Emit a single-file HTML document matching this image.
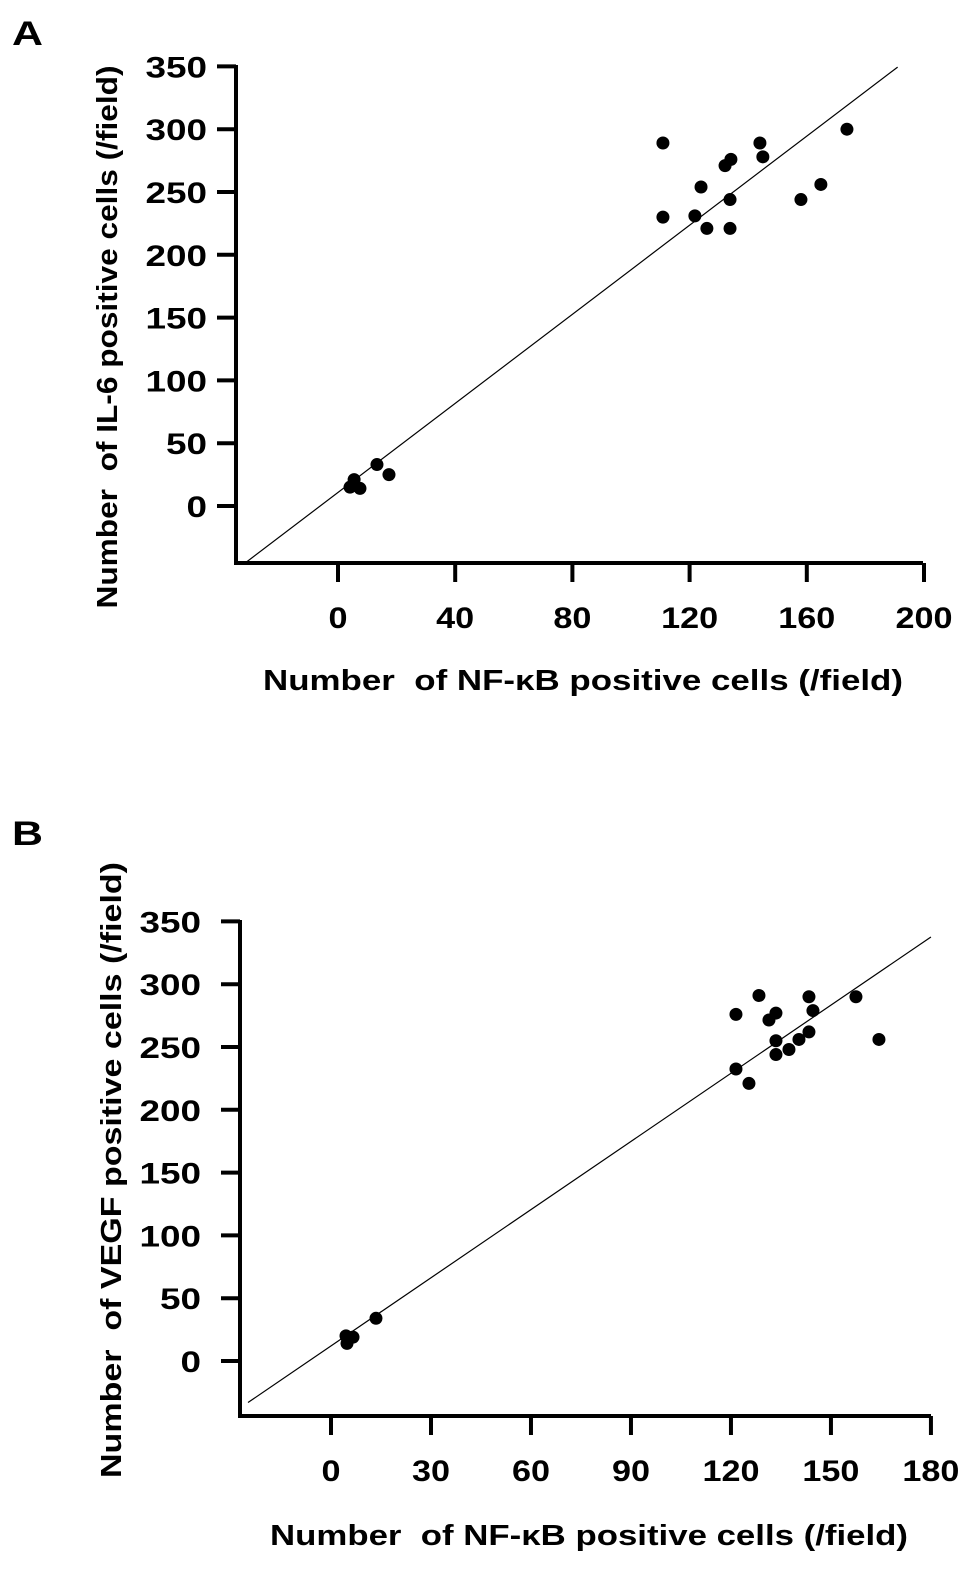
<!DOCTYPE html>
<html><head><meta charset="utf-8"><style>
body{margin:0;background:#fff;}
svg text{font-family:"Liberation Sans",Arial,sans-serif;font-weight:bold;fill:#000;}
</style></head><body>
<svg id="chart" width="969" height="1564" xmlns="http://www.w3.org/2000/svg"></svg>
<script>
// Panel A data
const aX = [110.9,110.9,123.9,121.8,125.9,132.1,134.1,144,145,133.8,133.8,158,164.8,173.7,4.1,5.5,7.5,13.3,17.4];
const aY = [289,230,254,231,221,271,276,289,278,244,221,244,256,300,15,21,14,33,25];
const aXTicks = [0,40,80,120,160,200];
const aYTicks = [0,50,100,150,200,250,300,350];
const aFit = [10.8,1.773];
// Panel B data
const bX = [121.5,128.4,133.5,131.4,143.4,144.6,157.5,164.4,143.4,140.4,137.4,133.5,133.5,121.5,125.4,4.8,4.5,6.6,13.5];
const bY = [276,291,277,271.5,290,279,290,256,262,256,248,255,244,232.5,221,14,20,19,34];
const bXTicks = [0,30,60,90,120,150,180];
const bYTicks = [0,50,100,150,200,250,300,350];
const bFit = [12,1.809];

const svg = document.getElementById('chart');
const NS = 'http://www.w3.org/2000/svg';
function mk(tag, attrs, parent){
  const e = document.createElementNS(NS, tag);
  for (const k in attrs) e.setAttribute(k, attrs[k]);
  (parent||svg).appendChild(e);
  return e;
}
function panel(p){
  const g = mk('g', {});
  
  
  const sx = v => p.x0 + (v - p.xv0) * p.xs;
  const sy = v => p.y0 - (v - p.yv0) * p.ys;
  const lab = mk('text', {x:12, y:p.labelY, 'font-size':34, textLength:31, lengthAdjust:'spacingAndGlyphs'}, g);
  lab.textContent = p.letter;
  
  
  const ya = mk('line', {x1:p.axL, y1:p.axT, x2:p.axL, y2:p.axB+2, stroke:'#000','stroke-width':4}, g);
  
  
  const xa = mk('line', {x1:p.axL-2, y1:p.axB, x2:p.axR, y2:p.axB, stroke:'#000','stroke-width':4}, g);
  
  
  p.yTicks.forEach(v => {
    const y = sy(v);
    const t = mk('line', {x1:p.axL-19, y1:y, x2:p.axL, y2:y, stroke:'#000','stroke-width':4}, g);
    
    
    const s = String(v);
    const tl = mk('text', {x:p.yLabR, y:y+11, 'font-size':30, 'text-anchor':'end', textLength:20.5*s.length, lengthAdjust:'spacingAndGlyphs'}, g);
    tl.textContent = s;
    
    
  });
  p.xTicks.forEach(v => {
    const x = sx(v);
    const t = mk('line', {x1:x, y1:p.axB, x2:x, y2:p.axB+19, stroke:'#000','stroke-width':4}, g);
    
    
    const s = String(v);
    const tl = mk('text', {x:x, y:p.axB+65, 'font-size':30, 'text-anchor':'middle', textLength:19*s.length, lengthAdjust:'spacingAndGlyphs'}, g);
    tl.textContent = s;
    
    
  });
  const xl = p.xv0 + (p.axL + 8 - p.x0)/p.xs;
  const xr = p.fitEnd;
  const fl = mk('line', {x1:sx(xl), y1:sy(p.fit[0]+p.fit[1]*xl), x2:sx(xr), y2:sy(p.fit[0]+p.fit[1]*xr), stroke:'#000','stroke-width':1.2}, g);
  
  
  p.xs_.forEach((v,i) => {
    const c = mk('circle', {cx:sx(v), cy:sy(p.ys_[i]), r:6.5, fill:'#000'}, g);
    
    
  });
  const xt = mk('text', {x:p.xTitleX, y:p.xTitleY, 'font-size':29, 'text-anchor':'middle', textLength:p.xTitleLen, lengthAdjust:'spacingAndGlyphs'}, g);
  xt.textContent = 'Number \u00a0of NF-\u03BAB positive cells (/field)';
  
  
  const yt = mk('text', {x:0, y:0, 'font-size':29, 'text-anchor':'middle', textLength:p.yTitleLen, lengthAdjust:'spacingAndGlyphs', transform:`translate(${p.yTitleX},${p.yTitleY}) rotate(-90)`}, g);
  yt.textContent = p.yTitle;
  
  
}
panel({name:'panel-a', letter:'A', labelY:45, x0:338, xv0:0, xs:2.93, y0:506, yv0:0, ys:1.256,
  axL:236, axT:65, axB:563, axR:923, xTicks:aXTicks, yTicks:aYTicks, fit:aFit, fitEnd:191, yLabR:207,
  xs_:aX, ys_:aY, xTitleX:583, xTitleY:690, xTitleLen:640, yTitleX:117, yTitleY:337, yTitleLen:543,
  yTitle:'Number \u00a0of IL-6 positive cells (/field)'});
panel({name:'panel-b', letter:'B', labelY:845, x0:331, xv0:0, xs:3.333, y0:1361, yv0:0, ys:1.256,
  axL:240, axT:920, axB:1416, axR:931, xTicks:bXTicks, yTicks:bYTicks, fit:bFit, fitEnd:180, yLabR:201,
  xs_:bX, ys_:bY, xTitleX:589, xTitleY:1545, xTitleLen:638, yTitleX:121, yTitleY:1170, yTitleLen:616,
  yTitle:'Number \u00a0of VEGF positive cells (/field)'});
</script>
</body></html>
